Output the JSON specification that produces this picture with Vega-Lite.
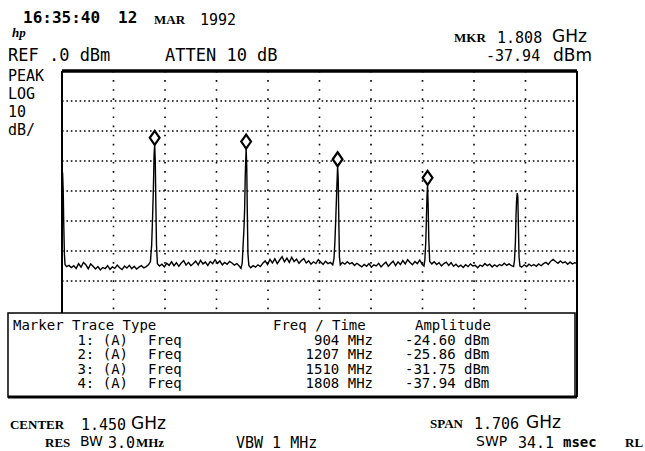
{
  "$schema": "https://vega.github.io/schema/vega-lite/v6.json",
  "width": 645,
  "height": 451,
  "padding": 0,
  "autosize": {"type": "none"},
  "background": "white",
  "view": {"stroke": null},
  "datasets": {
    "trace": [
      {"f":597,"d":-33.5},{"f":599,"d":-34},{"f":601,"d":-40},{"f":603,"d":-52},{"f":605,"d":-61},{"f":607,"d":-64.5},{"f":612,"d":-65.2},
      {"f":620,"d":-64.8},{"f":628,"d":-65.5},{"f":636,"d":-64.9},{"f":644,"d":-65.8},{"f":652,"d":-64.2},{"f":660,"d":-65.4},{"f":668,"d":-63.8},{"f":676,"d":-64.6},{"f":684,"d":-65.9},{"f":692,"d":-64.3},{"f":700,"d":-65.1},{"f":708,"d":-66.0},{"f":716,"d":-65.2},{"f":724,"d":-66.3},{"f":732,"d":-65.5},{"f":740,"d":-65.9},{"f":748,"d":-64.9},{"f":756,"d":-66.1},{"f":764,"d":-65.3},{"f":772,"d":-65.8},{"f":780,"d":-64.7},{"f":788,"d":-65.6},{"f":796,"d":-66.2},{"f":804,"d":-65.0},{"f":812,"d":-65.7},{"f":820,"d":-64.8},{"f":828,"d":-65.9},{"f":836,"d":-65.1},{"f":844,"d":-66.0},{"f":852,"d":-65.4},{"f":860,"d":-64.9},{"f":868,"d":-65.6},{"f":876,"d":-65.2},{"f":884,"d":-64.5},
      {"f":890,"d":-63.5},{"f":894,"d":-58},{"f":897,"d":-49},{"f":900,"d":-38},{"f":902,"d":-28},{"f":904,"d":-24.6},{"f":906,"d":-30},{"f":908,"d":-45},{"f":910,"d":-58},{"f":913,"d":-64.2},
      {"f":920,"d":-65.0},{"f":928,"d":-64.4},{"f":936,"d":-65.3},{"f":944,"d":-64.1},{"f":952,"d":-64.8},{"f":960,"d":-63.6},{"f":968,"d":-64.9},{"f":976,"d":-63.9},{"f":984,"d":-65.1},{"f":992,"d":-64.0},{"f":1000,"d":-63.2},{"f":1008,"d":-64.7},{"f":1016,"d":-63.8},{"f":1024,"d":-64.9},{"f":1032,"d":-64.2},{"f":1040,"d":-63.4},{"f":1048,"d":-64.6},{"f":1056,"d":-63.1},{"f":1064,"d":-64.3},{"f":1072,"d":-63.7},{"f":1080,"d":-64.8},{"f":1088,"d":-63.5},{"f":1096,"d":-64.2},{"f":1104,"d":-62.9},{"f":1112,"d":-64.1},{"f":1120,"d":-63.3},{"f":1128,"d":-64.6},{"f":1136,"d":-63.8},{"f":1144,"d":-64.4},{"f":1152,"d":-63.5},{"f":1160,"d":-64.0},{"f":1168,"d":-64.7},{"f":1176,"d":-64.2},{"f":1184,"d":-65.0},{"f":1190,"d":-65.8},
      {"f":1194,"d":-64},{"f":1197,"d":-58},{"f":1200,"d":-52},{"f":1202,"d":-46},{"f":1204,"d":-35},{"f":1207,"d":-25.86},{"f":1209,"d":-32},{"f":1211,"d":-48},{"f":1213,"d":-61},{"f":1216,"d":-64.8},
      {"f":1222,"d":-65.6},{"f":1230,"d":-64.9},{"f":1238,"d":-65.4},{"f":1246,"d":-64.6},{"f":1254,"d":-65.2},{"f":1262,"d":-64.1},{"f":1270,"d":-63.3},{"f":1278,"d":-64.5},{"f":1286,"d":-62.8},{"f":1294,"d":-64.0},{"f":1302,"d":-62.6},{"f":1310,"d":-64.2},{"f":1318,"d":-63.0},{"f":1326,"d":-61.9},{"f":1334,"d":-63.6},{"f":1342,"d":-62.4},{"f":1350,"d":-63.8},{"f":1358,"d":-62.1},{"f":1366,"d":-63.5},{"f":1374,"d":-62.7},{"f":1382,"d":-64.1},{"f":1390,"d":-63.2},{"f":1398,"d":-62.5},{"f":1406,"d":-64.0},{"f":1414,"d":-63.3},{"f":1422,"d":-64.4},{"f":1430,"d":-63.6},{"f":1438,"d":-64.2},{"f":1446,"d":-62.9},{"f":1454,"d":-63.7},{"f":1462,"d":-64.5},{"f":1470,"d":-63.4},{"f":1478,"d":-64.2},{"f":1486,"d":-63.8},{"f":1494,"d":-64.6},
      {"f":1498,"d":-62.5},{"f":1501,"d":-57},{"f":1504,"d":-49},{"f":1507,"d":-40},{"f":1510,"d":-31.75},{"f":1512,"d":-36},{"f":1514,"d":-50},{"f":1516,"d":-62},{"f":1519,"d":-64.6},
      {"f":1526,"d":-63.8},{"f":1534,"d":-64.4},{"f":1542,"d":-63.6},{"f":1550,"d":-64.3},{"f":1558,"d":-63.9},{"f":1566,"d":-64.8},{"f":1574,"d":-64.1},{"f":1582,"d":-64.7},{"f":1590,"d":-65.3},{"f":1598,"d":-64.5},{"f":1606,"d":-65.1},{"f":1614,"d":-64.2},{"f":1622,"d":-65.4},{"f":1630,"d":-64.6},{"f":1638,"d":-65.0},{"f":1646,"d":-64.1},{"f":1654,"d":-65.3},{"f":1662,"d":-64.4},{"f":1670,"d":-63.7},{"f":1678,"d":-65.1},{"f":1686,"d":-64.2},{"f":1694,"d":-63.4},{"f":1702,"d":-64.9},{"f":1710,"d":-63.6},{"f":1718,"d":-64.5},{"f":1726,"d":-63.2},{"f":1734,"d":-64.3},{"f":1742,"d":-62.9},{"f":1750,"d":-63.8},{"f":1758,"d":-64.6},{"f":1766,"d":-63.5},{"f":1774,"d":-64.2},{"f":1782,"d":-63.0},{"f":1790,"d":-64.4},{"f":1796,"d":-65.0},
      {"f":1799,"d":-63},{"f":1802,"d":-57},{"f":1804,"d":-50},{"f":1806,"d":-42},{"f":1808,"d":-37.94},{"f":1810,"d":-45},{"f":1812,"d":-56},{"f":1815,"d":-63.5},
      {"f":1822,"d":-64.3},{"f":1830,"d":-63.6},{"f":1838,"d":-64.5},{"f":1846,"d":-63.9},{"f":1854,"d":-65.0},{"f":1862,"d":-64.2},{"f":1870,"d":-63.7},{"f":1878,"d":-64.8},{"f":1886,"d":-63.9},{"f":1894,"d":-65.1},{"f":1902,"d":-64.4},{"f":1910,"d":-65.3},{"f":1918,"d":-64.7},{"f":1926,"d":-65.5},{"f":1934,"d":-64.6},{"f":1942,"d":-65.2},{"f":1950,"d":-64.3},{"f":1958,"d":-65.0},{"f":1966,"d":-64.8},{"f":1974,"d":-65.6},{"f":1982,"d":-64.7},{"f":1990,"d":-65.1},{"f":1998,"d":-64.2},{"f":2006,"d":-64.9},{"f":2014,"d":-64.4},{"f":2022,"d":-65.3},{"f":2030,"d":-64.6},{"f":2038,"d":-65.2},{"f":2046,"d":-64.5},{"f":2054,"d":-64.9},{"f":2062,"d":-64.1},{"f":2070,"d":-64.8},{"f":2078,"d":-64.3},{"f":2086,"d":-64.9},{"f":2093,"d":-65.2},
      {"f":2096,"d":-63},{"f":2099,"d":-57},{"f":2101,"d":-48},{"f":2103,"d":-43},{"f":2105,"d":-40.7},{"f":2107,"d":-42},{"f":2109,"d":-52},{"f":2111,"d":-62},{"f":2114,"d":-65},
      {"f":2120,"d":-65.4},{"f":2128,"d":-64.6},{"f":2136,"d":-65.2},{"f":2144,"d":-64.4},{"f":2152,"d":-65.0},{"f":2160,"d":-64.5},{"f":2168,"d":-65.1},{"f":2176,"d":-64.3},{"f":2184,"d":-64.9},{"f":2192,"d":-64.2},{"f":2200,"d":-63.8},{"f":2208,"d":-64.5},{"f":2216,"d":-63.4},{"f":2224,"d":-62.8},{"f":2232,"d":-63.5},{"f":2240,"d":-64.1},{"f":2248,"d":-63.3},{"f":2256,"d":-64.0},{"f":2264,"d":-63.6},{"f":2272,"d":-64.4},{"f":2280,"d":-63.7},{"f":2288,"d":-64.3},{"f":2296,"d":-63.9},{"f":2303,"d":-64.2}
    ],
    "markers": [
      {"f":904,"d":-24.6},{"f":1207,"d":-25.86},{"f":1510,"d":-31.75},{"f":1808,"d":-37.94}
    ],
    "gridH": [{"d":-10},{"d":-20},{"d":-30},{"d":-40},{"d":-50},{"d":-60},{"d":-70}],
    "gridV": [{"f":767.6},{"f":938.2},{"f":1108.8},{"f":1279.4},{"f":1450},{"f":1620.6},{"f":1791.2},{"f":1961.8},{"f":2132.4}],
    "monoL": [
      {"t":"REF .0 dBm","f":418.1,"d":5.0},
      {"t":"ATTEN 10 dB","f":938.2,"d":5.0}
    ],
    "side": [
      {"t":"PEAK","f":418.1,"d":-1.67},
      {"t":"LOG","f":418.1,"d":-7.67},
      {"t":"10","f":418.1,"d":-13.67},
      {"t":"dB/","f":418.1,"d":-19.67}
    ],
    "tableL": [
      {"t":"Marker Trace Type","f":434.7,"d":-85.0},
      {"t":"Freq / Time","f":1296.0,"d":-85.0},
      {"t":"Amplitude","f":1766.4,"d":-85.0},
      {"t":"Freq","f":881.9,"d":-90.0},
      {"t":"Freq","f":881.9,"d":-94.83},
      {"t":"Freq","f":881.9,"d":-99.67},
      {"t":"Freq","f":881.9,"d":-104.5},
      {"t":"-24.60 dBm","f":1733.2,"d":-90.0},
      {"t":"-25.86 dBm","f":1733.2,"d":-94.83},
      {"t":"-31.75 dBm","f":1733.2,"d":-99.67},
      {"t":"-37.94 dBm","f":1733.2,"d":-104.5}
    ],
    "tableR": [
      {"t":"1: (A)","f":815.6,"d":-90.0},
      {"t":"2: (A)","f":815.6,"d":-94.83},
      {"t":"3: (A)","f":815.6,"d":-99.67},
      {"t":"4: (A)","f":815.6,"d":-104.5},
      {"t":"904 MHz","f":1627.2,"d":-90.0},
      {"t":"1207 MHz","f":1627.2,"d":-94.83},
      {"t":"1510 MHz","f":1627.2,"d":-99.67},
      {"t":"1808 MHz","f":1627.2,"d":-104.5}
    ],
    "monoS": [
      {"t":"1.808","f":2038.0,"d":11.0},
      {"t":"-37.94","f":2001.5,"d":5.0},
      {"t":"1.450","f":659.9,"d":-118.0},
      {"t":"1.706","f":1961.8,"d":-117.67},
      {"t":"3.0","f":749.4,"d":-124.0},
      {"t":"34.1","f":2107.6,"d":-124.0},
      {"t":"VBW 1 MHz","f":1173.4,"d":-124.0},
      {"t":"1992","f":1054.1,"d":17.0}
    ],
    "stamp": [
      {"t":"16:35:40","f":467.8,"d":17.67},
      {"t":"12","f":782.5,"d":17.67}
    ],
    "serif": [
      {"t":"MAR","f":901.8,"d":17.0},
      {"t":"MKR","f":1895.6,"d":11.0},
      {"t":"CENTER","f":424.7,"d":-118.0},
      {"t":"SPAN","f":1816.1,"d":-117.67},
      {"t":"RES","f":540.7,"d":-124.0},
      {"t":"MHz","f":842.1,"d":-124.0},
      {"t":"RL","f":2462.0,"d":-124.0}
    ],
    "sans": [
      {"t":"GHz","f":2220.2,"d":11.33},
      {"t":"dBm","f":2223.5,"d":5.0},
      {"t":"GHz","f":825.6,"d":-117.67},
      {"t":"GHz","f":2134.1,"d":-117.33}
    ],
    "sansS": [
      {"t":"BW","f":656.6,"d":-123.67},
      {"t":"SWP","f":1968.4,"d":-123.67}
    ],
    "small": [
      {"t":"msec","f":2256.6,"d":-124.0}
    ],
    "logo": [
      {"t":"hp","f":431.4,"d":12.67}
    ]
  },
  "layer": [
    {
      "data": {"name": "gridH"},
      "mark": {"type": "rule", "color": "black", "strokeWidth": 1.6, "strokeDash": [1.6, 2.8]},
      "encoding": {
        "y": {"field": "d", "type": "quantitative", "scale": {"domain": [-126.67, 23.67], "nice": false, "zero": false}, "axis": null},
        "x": {"datum": 597, "type": "quantitative", "scale": {"domain": [391.62, 2528.26], "nice": false, "zero": false}, "axis": null},
        "x2": {"datum": 2303}
      }
    },
    {
      "data": {"name": "gridV"},
      "mark": {"type": "rule", "color": "black", "strokeWidth": 1.6, "strokeDash": [1.6, 7.5]},
      "encoding": {
        "x": {"field": "f", "type": "quantitative", "scale": {"domain": [391.62, 2528.26], "nice": false, "zero": false}, "axis": null},
        "y": {"datum": 0, "type": "quantitative", "scale": {"domain": [-126.67, 23.67], "nice": false, "zero": false}, "axis": null},
        "y2": {"datum": -80.67}
      }
    },
    {
      "data": {"name": "trace"},
      "mark": {"type": "line", "color": "black", "strokeWidth": 1.4, "interpolate": "linear"},
      "encoding": {
        "x": {"field": "f", "type": "quantitative", "scale": {"domain": [391.62, 2528.26], "nice": false, "zero": false}, "axis": null},
        "y": {"field": "d", "type": "quantitative", "scale": {"domain": [-126.67, 23.67], "nice": false, "zero": false}, "axis": null}
      }
    },
    {
      "data": {"values": [{}]},
      "mark": {"type": "rule", "color": "black", "strokeWidth": 3.5},
      "encoding": {
        "x": {"datum": 597, "type": "quantitative", "scale": {"domain": [391.62, 2528.26], "nice": false, "zero": false}, "axis": null},
        "x2": {"datum": 2303},
        "y": {"datum": 0, "type": "quantitative", "scale": {"domain": [-126.67, 23.67], "nice": false, "zero": false}, "axis": null}
      }
    },
    {
      "data": {"values": [{}]},
      "mark": {"type": "rule", "color": "black", "strokeWidth": 2},
      "encoding": {
        "x": {"datum": 597, "type": "quantitative", "scale": {"domain": [391.62, 2528.26], "nice": false, "zero": false}, "axis": null},
        "y": {"datum": 0, "type": "quantitative", "scale": {"domain": [-126.67, 23.67], "nice": false, "zero": false}, "axis": null},
        "y2": {"datum": -80.67}
      }
    },
    {
      "data": {"values": [{}]},
      "mark": {"type": "rule", "color": "black", "strokeWidth": 2},
      "encoding": {
        "x": {"datum": 2303, "type": "quantitative", "scale": {"domain": [391.62, 2528.26], "nice": false, "zero": false}, "axis": null},
        "y": {"datum": 0, "type": "quantitative", "scale": {"domain": [-126.67, 23.67], "nice": false, "zero": false}, "axis": null},
        "y2": {"datum": -108.67}
      }
    },
    {
      "data": {"values": [{}]},
      "mark": {"type": "rect", "fill": "white", "stroke": "black", "strokeWidth": 1.5},
      "encoding": {
        "x": {"datum": 418.1, "type": "quantitative", "scale": {"domain": [391.62, 2528.26], "nice": false, "zero": false}, "axis": null},
        "x2": {"datum": 2296.4},
        "y": {"datum": -80.67, "type": "quantitative", "scale": {"domain": [-126.67, 23.67], "nice": false, "zero": false}, "axis": null},
        "y2": {"datum": -108.67}
      }
    },
    {
      "data": {"values": [{}]},
      "mark": {"type": "rule", "color": "black", "strokeWidth": 3},
      "encoding": {
        "x": {"datum": 418.1, "type": "quantitative", "scale": {"domain": [391.62, 2528.26], "nice": false, "zero": false}, "axis": null},
        "x2": {"datum": 2303},
        "y": {"datum": -108.67, "type": "quantitative", "scale": {"domain": [-126.67, 23.67], "nice": false, "zero": false}, "axis": null}
      }
    },
    {
      "data": {"name": "markers"},
      "mark": {"type": "point", "shape": "M0,-2L0.7,-1L0,0L-0.7,-1Z", "size": 196, "filled": false, "fill": "white", "fillOpacity": 1, "stroke": "black", "strokeWidth": 2.2, "opacity": 1},
      "encoding": {
        "x": {"field": "f", "type": "quantitative", "scale": {"domain": [391.62, 2528.26], "nice": false, "zero": false}, "axis": null},
        "y": {"field": "d", "type": "quantitative", "scale": {"domain": [-126.67, 23.67], "nice": false, "zero": false}, "axis": null}
      }
    },
    {
      "data": {"name": "monoL"},
      "mark": {"type": "text", "font": "DejaVu Sans Mono", "fontSize": 17, "align": "left", "baseline": "middle", "color": "black"},
      "encoding": {
        "x": {"field": "f", "type": "quantitative", "scale": {"domain": [391.62, 2528.26], "nice": false, "zero": false}, "axis": null},
        "y": {"field": "d", "type": "quantitative", "scale": {"domain": [-126.67, 23.67], "nice": false, "zero": false}, "axis": null},
        "text": {"field": "t"}
      }
    },
    {
      "data": {"name": "side"},
      "mark": {"type": "text", "font": "DejaVu Sans Mono", "fontSize": 15, "align": "left", "baseline": "middle", "color": "black"},
      "encoding": {
        "x": {"field": "f", "type": "quantitative", "scale": {"domain": [391.62, 2528.26], "nice": false, "zero": false}, "axis": null},
        "y": {"field": "d", "type": "quantitative", "scale": {"domain": [-126.67, 23.67], "nice": false, "zero": false}, "axis": null},
        "text": {"field": "t"}
      }
    },
    {
      "data": {"name": "tableL"},
      "mark": {"type": "text", "font": "DejaVu Sans Mono", "fontSize": 14, "align": "left", "baseline": "middle", "color": "black"},
      "encoding": {
        "x": {"field": "f", "type": "quantitative", "scale": {"domain": [391.62, 2528.26], "nice": false, "zero": false}, "axis": null},
        "y": {"field": "d", "type": "quantitative", "scale": {"domain": [-126.67, 23.67], "nice": false, "zero": false}, "axis": null},
        "text": {"field": "t"}
      }
    },
    {
      "data": {"name": "tableR"},
      "mark": {"type": "text", "font": "DejaVu Sans Mono", "fontSize": 14, "align": "right", "baseline": "middle", "color": "black"},
      "encoding": {
        "x": {"field": "f", "type": "quantitative", "scale": {"domain": [391.62, 2528.26], "nice": false, "zero": false}, "axis": null},
        "y": {"field": "d", "type": "quantitative", "scale": {"domain": [-126.67, 23.67], "nice": false, "zero": false}, "axis": null},
        "text": {"field": "t"}
      }
    },
    {
      "data": {"name": "monoS"},
      "mark": {"type": "text", "font": "DejaVu Sans Mono", "fontSize": 15, "align": "left", "baseline": "middle", "color": "black"},
      "encoding": {
        "x": {"field": "f", "type": "quantitative", "scale": {"domain": [391.62, 2528.26], "nice": false, "zero": false}, "axis": null},
        "y": {"field": "d", "type": "quantitative", "scale": {"domain": [-126.67, 23.67], "nice": false, "zero": false}, "axis": null},
        "text": {"field": "t"}
      }
    },
    {
      "data": {"name": "stamp"},
      "mark": {"type": "text", "font": "DejaVu Sans Mono", "fontSize": 16, "fontWeight": "bold", "align": "left", "baseline": "middle", "color": "black"},
      "encoding": {
        "x": {"field": "f", "type": "quantitative", "scale": {"domain": [391.62, 2528.26], "nice": false, "zero": false}, "axis": null},
        "y": {"field": "d", "type": "quantitative", "scale": {"domain": [-126.67, 23.67], "nice": false, "zero": false}, "axis": null},
        "text": {"field": "t"}
      }
    },
    {
      "data": {"name": "serif"},
      "mark": {"type": "text", "font": "Liberation Serif", "fontSize": 13, "fontWeight": "bold", "align": "left", "baseline": "middle", "color": "black"},
      "encoding": {
        "x": {"field": "f", "type": "quantitative", "scale": {"domain": [391.62, 2528.26], "nice": false, "zero": false}, "axis": null},
        "y": {"field": "d", "type": "quantitative", "scale": {"domain": [-126.67, 23.67], "nice": false, "zero": false}, "axis": null},
        "text": {"field": "t"}
      }
    },
    {
      "data": {"name": "sans"},
      "mark": {"type": "text", "font": "DejaVu Sans", "fontSize": 17, "align": "left", "baseline": "middle", "color": "black"},
      "encoding": {
        "x": {"field": "f", "type": "quantitative", "scale": {"domain": [391.62, 2528.26], "nice": false, "zero": false}, "axis": null},
        "y": {"field": "d", "type": "quantitative", "scale": {"domain": [-126.67, 23.67], "nice": false, "zero": false}, "axis": null},
        "text": {"field": "t"}
      }
    },
    {
      "data": {"name": "sansS"},
      "mark": {"type": "text", "font": "DejaVu Sans", "fontSize": 14, "align": "left", "baseline": "middle", "color": "black"},
      "encoding": {
        "x": {"field": "f", "type": "quantitative", "scale": {"domain": [391.62, 2528.26], "nice": false, "zero": false}, "axis": null},
        "y": {"field": "d", "type": "quantitative", "scale": {"domain": [-126.67, 23.67], "nice": false, "zero": false}, "axis": null},
        "text": {"field": "t"}
      }
    },
    {
      "data": {"name": "small"},
      "mark": {"type": "text", "font": "DejaVu Sans Mono", "fontSize": 14, "fontWeight": "bold", "align": "left", "baseline": "middle", "color": "black"},
      "encoding": {
        "x": {"field": "f", "type": "quantitative", "scale": {"domain": [391.62, 2528.26], "nice": false, "zero": false}, "axis": null},
        "y": {"field": "d", "type": "quantitative", "scale": {"domain": [-126.67, 23.67], "nice": false, "zero": false}, "axis": null},
        "text": {"field": "t"}
      }
    },
    {
      "data": {"name": "logo"},
      "mark": {"type": "text", "font": "Liberation Serif", "fontSize": 13, "fontWeight": "bold", "fontStyle": "italic", "align": "left", "baseline": "middle", "color": "black"},
      "encoding": {
        "x": {"field": "f", "type": "quantitative", "scale": {"domain": [391.62, 2528.26], "nice": false, "zero": false}, "axis": null},
        "y": {"field": "d", "type": "quantitative", "scale": {"domain": [-126.67, 23.67], "nice": false, "zero": false}, "axis": null},
        "text": {"field": "t"}
      }
    }
  ]
}
